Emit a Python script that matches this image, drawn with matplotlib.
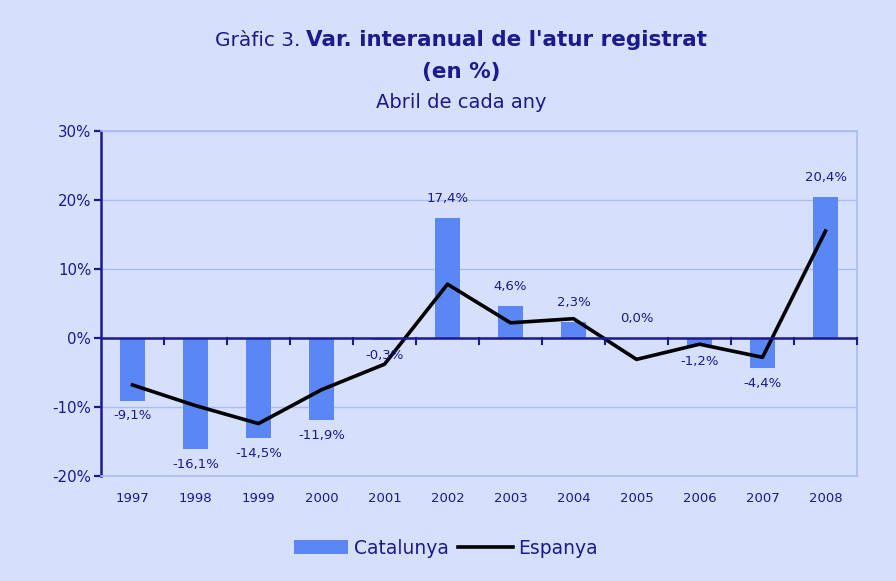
import matplotlib
matplotlib.use("Agg")
import matplotlib.pyplot as plt
from matplotlib.patches import Patch
from matplotlib.lines import Line2D
import numpy as np

years = ["1997", "1998", "1999", "2000", "2001", "2002", "2003", "2004", "2005", "2006", "2007", "2008"]
catalunya = [-9.1, -16.1, -14.5, -11.9, -0.3, 17.4, 4.6, 2.3, 0.0, -1.2, -4.4, 20.4]
espanya = [-6.8, -9.8, -12.4, -7.5, -3.8, 7.8, 2.2, 2.8, -3.1, -0.9, -2.8, 15.5]
yticks = [-20, -10, 0, 10, 20, 30]

BG = "#D6DFFB"
NAVY = "#1B1B8F"
BAR = "#5B87F5"
GRID = "#A9BCF3"

plt.rcParams['font.family'] = ['DejaVu Sans']

fig = plt.figure(figsize=(8.96, 5.81), dpi=100, facecolor=BG)
ax = fig.add_axes([101/896, 1-476/581, (857-101)/896, (476-131)/581])
ax.set_facecolor(BG)

x = np.arange(len(years))
ax.bar(x, catalunya, width=0.41, color=BAR, zorder=2)
ax.plot(x, espanya, color="black", lw=2.6, zorder=3)

ax.set_xlim(-0.5, len(years) - 0.5)
ax.set_ylim(-20, 30)
ax.set_yticks(yticks)
ax.set_yticklabels([f"{v}%" for v in yticks], color=NAVY, fontsize=10.8)
ax.yaxis.grid(True, color=GRID, lw=1, zorder=0)
ax.tick_params(axis='y', direction='out', length=5, width=1.6, color=NAVY, pad=2)

ax.set_xticks([])
for i, y in enumerate(years):
    ax.text(i, -23.2, y, ha='center', va='center', color=NAVY, fontsize=9.5)

# zero axis with tick marks at category boundaries
ax.axhline(0, color=NAVY, lw=1.8, zorder=4)
for b in np.arange(0.5, len(years), 1.0):
    ax.plot([b, b], [0, -0.8], color=NAVY, lw=1.5, zorder=4, clip_on=False)

for s in ['top', 'right', 'bottom']:
    ax.spines[s].set_color(GRID)
    ax.spines[s].set_linewidth(1.2)
ax.spines['left'].set_color(NAVY)
ax.spines['left'].set_linewidth(1.8)

for i, v in enumerate(catalunya):
    lbl = f"{v:.1f}".replace('.', ',') + "%"
    if v < 0:
        ax.text(i, v - 2.2, lbl, ha='center', va='center', color=NAVY, fontsize=9.5, zorder=5)
    else:
        ax.text(i, v + 2.85, lbl, ha='center', va='center', color=NAVY, fontsize=9.5, zorder=5)

# Title: regular prefix + bold part, centred together
CX = 461
fig.canvas.draw()
r = fig.canvas.get_renderer()
t1 = fig.text(0, 1-40/581, "Gràfic 3. ", fontsize=14.5, color=NAVY, va='center', ha='left')
t2 = fig.text(0, 1-40/581, "Var. interanual de l'atur registrat", fontsize=15.5, color=NAVY,
              va='center', ha='left', fontweight='bold')
w1 = t1.get_window_extent(r).width
w2 = t2.get_window_extent(r).width
start = CX - (w1 + w2) / 2
t1.set_x(start / 896)
t2.set_x((start + w1) / 896)
fig.text(CX/896, 1-72/581, "(en %)", fontsize=15.5, color=NAVY, va='center', ha='center',
         fontweight='bold')
fig.text(CX/896, 1-102/581, "Abril de cada any", fontsize=14, color=NAVY, va='center', ha='center')

handles = [Patch(facecolor=BAR, edgecolor='none'), Line2D([0], [0], color='black', lw=2.6)]
leg = fig.legend(handles, ["Catalunya", "Espanya"], loc='center', bbox_to_anchor=(446/896, 1-548/581),
                 ncol=2, frameon=False, fontsize=13.5, handlelength=2.9, handletextpad=0.3,
                 columnspacing=0.5, labelcolor=NAVY)

fig.savefig("out.png", dpi=100, facecolor=BG)
